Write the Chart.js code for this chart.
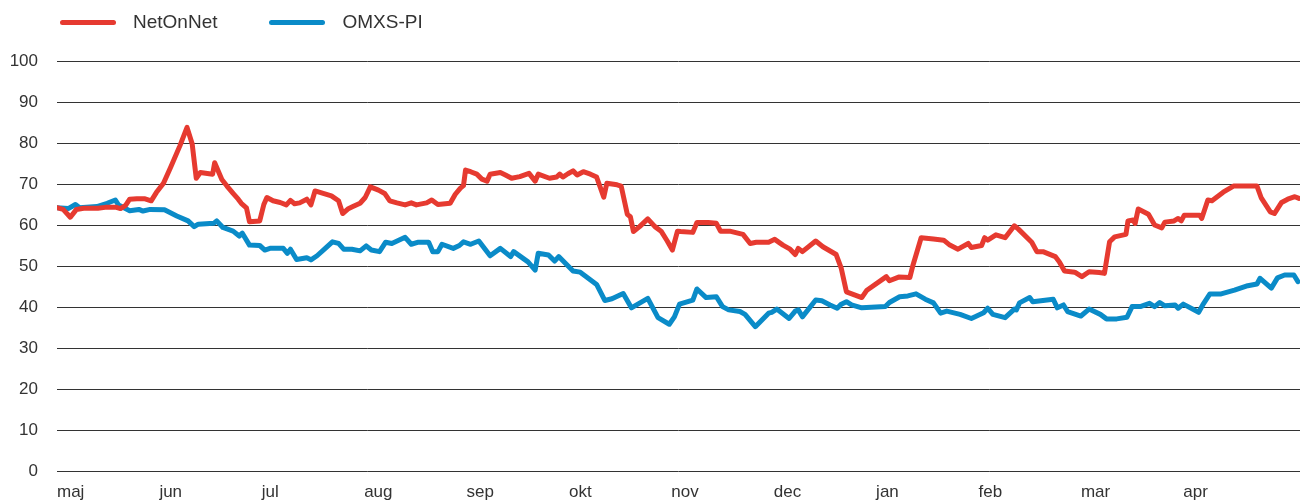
<!DOCTYPE html>
<html lang="sv">
<head>
<meta charset="utf-8">
<title>NetOnNet mot OMXS-PI</title>
<script src="https://cdn.jsdelivr.net/npm/chart.js@4.4.1/dist/chart.umd.min.js"></script>
<style>
  html, body { margin: 0; padding: 0; background: #fff; }
  #wrap { position: relative; width: 1305px; height: 502px; }
  #legend {
    position: absolute; top: 11px; left: 60px;
    display: flex; align-items: center;
    font-family: "Liberation Sans", Arial, Helvetica, sans-serif;
    font-size: 19px; color: #333; line-height: 22px;
  }
  #legend .item { display: flex; align-items: center; margin-right: 52px; }
  #legend .swatch { width: 56px; height: 5px; border-radius: 3px; margin-right: 17px; }
</style>
</head>
<body>
<div id="wrap">
  <canvas id="chart"></canvas>
  <div id="legend"></div>
</div>
<script>
// tick labels, one per month
const months = ['maj', 'jun', 'jul', 'aug', 'sep', 'okt', 'nov', 'dec', 'jan', 'feb', 'mar', 'apr'];

// positions in months from start of maj, index values
const netOnNetX = [0.00, 0.06, 0.13, 0.19, 0.26, 0.40, 0.47, 0.58, 0.62, 0.67,
  0.71, 0.78, 0.86, 0.92, 0.97, 1.04, 1.11, 1.20, 1.27, 1.32,
  1.36, 1.40, 1.52, 1.54, 1.61, 1.66, 1.72, 1.77, 1.80, 1.85,
  1.88, 1.98, 2.02, 2.05, 2.11, 2.18, 2.24, 2.28, 2.32, 2.37,
  2.44, 2.48, 2.52, 2.60, 2.68, 2.75, 2.79, 2.84, 2.89, 2.96,
  3.01, 3.06, 3.14, 3.20, 3.25, 3.32, 3.40, 3.46, 3.51, 3.61,
  3.66, 3.72, 3.84, 3.89, 3.94, 3.97, 3.99, 4.04, 4.10, 4.15,
  4.20, 4.23, 4.33, 4.38, 4.44, 4.52, 4.61, 4.67, 4.70, 4.81,
  4.88, 4.91, 4.94, 4.99, 5.04, 5.08, 5.14, 5.21, 5.27, 5.34,
  5.37, 5.47, 5.51, 5.57, 5.60, 5.63, 5.69, 5.77, 5.84, 5.90,
  5.96, 6.01, 6.06, 6.09, 6.21, 6.25, 6.36, 6.44, 6.48, 6.57,
  6.70, 6.77, 6.83, 6.95, 7.01, 7.09, 7.16, 7.21, 7.24, 7.28,
  7.41, 7.48, 7.61, 7.66, 7.71, 7.86, 7.91, 8.10, 8.13, 8.22,
  8.33, 8.36, 8.44, 8.56, 8.66, 8.72, 8.80, 8.90, 8.93, 9.03,
  9.06, 9.09, 9.17, 9.26, 9.35, 9.39, 9.52, 9.57, 9.63, 9.75,
  9.79, 9.84, 9.94, 10.01, 10.08, 10.18, 10.23, 10.28, 10.33, 10.44,
  10.46, 10.51, 10.53, 10.56, 10.66, 10.72, 10.79, 10.82, 10.91, 10.95,
  10.98, 11.01, 11.16, 11.18, 11.24, 11.28, 11.39, 11.49, 11.72, 11.76,
  11.85, 11.89, 11.96, 12.02, 12.09, 12.13];
const netOnNetY = [64.2, 63.8, 61.9, 63.8, 64.1, 64.1, 64.3, 64.3, 64.0, 64.8,
  66.3, 66.4, 66.4, 65.9, 67.9, 70.2, 74.1, 79.3, 83.8, 79.8,
  71.4, 72.8, 72.4, 75.2, 71.1, 69.5, 67.7, 66.3, 65.3, 64.2,
  60.8, 61.0, 65.0, 66.7, 65.9, 65.5, 64.9, 66.0, 65.2, 65.4,
  66.3, 64.9, 68.3, 67.7, 67.1, 65.9, 62.8, 63.9, 64.5, 65.3,
  66.7, 69.3, 68.5, 67.7, 65.9, 65.4, 64.9, 65.4, 64.9, 65.4,
  66.1, 65.0, 65.3, 67.5, 69.0, 69.6, 73.4, 73.0, 72.4, 71.2,
  70.7, 72.4, 72.8, 72.2, 71.4, 71.8, 72.6, 70.7, 72.4, 71.4,
  71.7, 72.4, 71.7, 72.5, 73.2, 72.2, 73.0, 72.4, 71.7, 66.8,
  70.2, 69.8, 69.5, 62.6, 62.0, 58.4, 59.6, 61.5, 59.6, 58.5,
  56.1, 53.9, 58.5, 58.4, 58.2, 60.6, 60.6, 60.4, 58.5, 58.5,
  57.7, 55.5, 55.8, 55.8, 56.5, 55.1, 54.1, 52.8, 54.3, 53.5,
  56.1, 54.7, 52.8, 49.4, 43.7, 42.3, 44.1, 47.4, 46.4, 47.3,
  47.2, 50.2, 56.9, 56.6, 56.3, 55.1, 54.1, 55.5, 54.5, 55.0,
  56.9, 56.3, 57.6, 56.9, 59.8, 59.0, 55.8, 53.5, 53.5, 52.3,
  51.0, 48.8, 48.5, 47.4, 48.6, 48.4, 48.2, 55.9, 57.1, 57.7,
  61.0, 61.2, 60.4, 63.9, 62.6, 60.0, 59.3, 60.7, 61.0, 61.6,
  61.0, 62.4, 62.4, 61.6, 66.1, 65.9, 68.0, 69.5, 69.5, 66.7,
  63.2, 62.8, 65.5, 66.3, 66.9, 66.5];

const omxsX = [0.00, 0.11, 0.18, 0.22, 0.39, 0.49, 0.57, 0.60, 0.63, 0.71,
  0.80, 0.84, 0.91, 1.05, 1.17, 1.28, 1.34, 1.38, 1.53, 1.56,
  1.62, 1.72, 1.78, 1.81, 1.88, 1.98, 2.03, 2.08, 2.21, 2.25,
  2.28, 2.34, 2.44, 2.48, 2.54, 2.62, 2.69, 2.75, 2.80, 2.88,
  2.96, 3.02, 3.07, 3.15, 3.21, 3.27, 3.40, 3.46, 3.53, 3.63,
  3.67, 3.72, 3.76, 3.87, 3.93, 3.97, 4.04, 4.12, 4.23, 4.33,
  4.43, 4.46, 4.60, 4.67, 4.70, 4.80, 4.86, 4.90, 5.04, 5.11,
  5.27, 5.35, 5.42, 5.53, 5.61, 5.77, 5.87, 5.98, 6.03, 6.08,
  6.21, 6.25, 6.34, 6.44, 6.50, 6.56, 6.67, 6.72, 6.82, 6.95,
  6.98, 7.03, 7.15, 7.21, 7.24, 7.28, 7.41, 7.47, 7.55, 7.62,
  7.66, 7.71, 7.76, 7.86, 8.09, 8.13, 8.23, 8.31, 8.39, 8.48,
  8.56, 8.63, 8.69, 8.82, 8.93, 9.05, 9.09, 9.14, 9.26, 9.35,
  9.37, 9.40, 9.50, 9.53, 9.73, 9.77, 9.83, 9.87, 10.00, 10.08,
  10.19, 10.25, 10.35, 10.45, 10.50, 10.58, 10.67, 10.72, 10.77, 10.82,
  10.92, 10.95, 11.00, 11.15, 11.19, 11.26, 11.37, 11.50, 11.63, 11.72,
  11.75, 11.86, 11.92, 11.99, 12.08, 12.12];
const omxsY = [64.2, 64.0, 65.0, 64.2, 64.5, 65.3, 66.1, 64.9, 64.5, 63.5,
  63.8, 63.4, 63.8, 63.7, 62.2, 61.0, 59.6, 60.2, 60.4, 61.0,
  59.4, 58.5, 57.3, 58.0, 55.1, 55.0, 53.9, 54.3, 54.3, 53.1,
  54.1, 51.6, 52.0, 51.5, 52.5, 54.3, 55.9, 55.5, 54.1, 54.1,
  53.7, 54.9, 53.9, 53.5, 55.8, 55.5, 57.0, 55.3, 55.8, 55.8,
  53.5, 53.5, 55.3, 54.3, 55.0, 55.9, 55.3, 56.1, 52.5, 54.3,
  52.3, 53.5, 51.0, 49.0, 53.1, 52.7, 51.2, 52.3, 48.8, 48.5,
  45.5, 41.6, 42.0, 43.3, 39.8, 42.1, 37.4, 35.8, 37.6, 40.7,
  41.7, 44.4, 42.3, 42.5, 40.1, 39.3, 38.9, 38.2, 35.2, 38.5,
  38.7, 39.5, 37.2, 39.0, 39.3, 37.6, 41.7, 41.5, 40.5, 39.7,
  40.7, 41.3, 40.5, 39.8, 40.1, 41.1, 42.5, 42.7, 43.2, 41.9,
  41.0, 38.5, 39.0, 38.2, 37.2, 38.6, 39.7, 38.2, 37.4, 39.5,
  39.3, 41.0, 42.3, 41.3, 41.9, 39.8, 40.5, 38.9, 37.8, 39.5,
  38.2, 37.1, 37.1, 37.5, 40.1, 40.1, 40.9, 40.1, 41.1, 40.3,
  40.5, 39.7, 40.7, 38.7, 40.5, 43.2, 43.2, 44.1, 45.2, 45.6,
  47.0, 44.6, 47.1, 47.8, 47.8, 46.2];

const yTicks = [0, 10, 20, 30, 40, 50, 60, 70, 80, 90, 100];

const RED = '#e63a30';
const BLUE = '#0a8bc8';
const TEXT = '#333';
const FONT = '"Liberation Sans", Arial, Helvetica, sans-serif';

const toPoints = (xs, ys) => xs.map((x, i) => ({ x, y: ys[i] }));

const lineStyle = {
  borderWidth: 5,
  pointRadius: 0,
  tension: 0,
  borderJoinStyle: 'round',
  borderCapStyle: 'round',
  fill: false
};

const chart = new Chart(document.getElementById('chart'), {
  type: 'line',
  data: {
    datasets: [
      { label: 'NetOnNet', data: toPoints(netOnNetX, netOnNetY), borderColor: RED, backgroundColor: RED, ...lineStyle },
      { label: 'OMXS-PI', data: toPoints(omxsX, omxsY), borderColor: BLUE, backgroundColor: BLUE, ...lineStyle }
    ]
  },
  options: {
    responsive: true,
    maintainAspectRatio: false,
    animation: false,
    layout: { padding: { top: 61, right: 5, bottom: 0, left: 0 } },
    plugins: {
      legend: { display: false },
      tooltip: { enabled: false }
    },
    scales: {
      x: {
        type: 'linear',
        min: 0,
        max: 12.14,
        grid: { display: false, drawTicks: false },
        border: { display: false },
        afterFit: (scale) => { scale.height = 31; },
        ticks: {
          stepSize: 1,
          includeBounds: false,
          autoSkip: false,
          maxRotation: 0,
          align: 'start',
          padding: 11,
          color: TEXT,
          font: { family: FONT, size: 17 },
          callback: (v) => months[v] ?? ''
        }
      },
      y: {
        min: 0,
        max: 100,
        afterFit: (scale) => { scale.width = 57; },
        afterBuildTicks: (scale) => { scale.ticks = yTicks.map(v => ({ value: v })); },
        grid: { color: '#333', lineWidth: 1, drawTicks: false },
        border: { display: false },
        ticks: {
          padding: 19,
          color: TEXT,
          font: { family: FONT, size: 17 }
        }
      }
    }
  }
});

// HTML legend built from the datasets
const legendEl = document.getElementById('legend');
chart.data.datasets.forEach(ds => {
  const item = document.createElement('div');
  item.className = 'item';
  const sw = document.createElement('span');
  sw.className = 'swatch';
  sw.style.background = ds.borderColor;
  const txt = document.createElement('span');
  txt.textContent = ds.label;
  item.appendChild(sw);
  item.appendChild(txt);
  legendEl.appendChild(item);
});
</script>
</body>
</html>
